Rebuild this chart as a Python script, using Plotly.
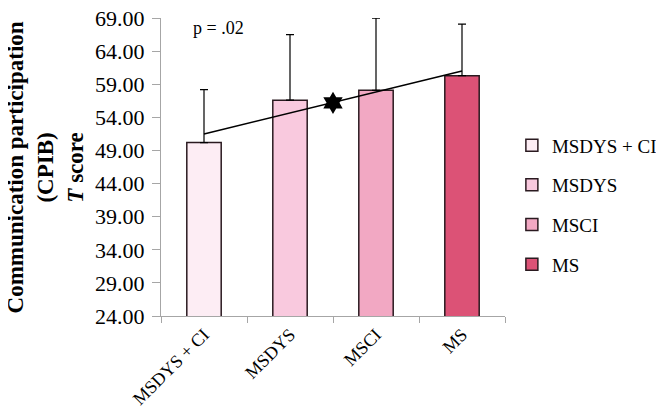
"""
Communication participation (CPIB) T score by group, with trend line
"""

import plotly.graph_objects as go

# data
groups = ['MSDYS + CI', 'MSDYS', 'MSCI', 'MS']
mean_scores = [50.2, 56.6, 58.1, 60.3]
sd_upper = [8.0, 9.9, 10.9, 7.8]
bar_colors = ['#fdedf4', '#f9c9de', '#f2a8c3', '#dc5276']

# trend line end points (first and last group) and the star marker
trend_x = [0, 3]
trend_y = [51.5, 61.0]
star_x = [1.5]
star_y = [56.2]

y_ticks = [24, 29, 34, 39, 44, 49, 54, 59, 64, 69]

FONT = 'Liberation Serif'
AXIS_GREY = '#a6a6a6'

fig = go.Figure()

for name, val, err, col in zip(groups, mean_scores, sd_upper, bar_colors):
    fig.add_trace(go.Bar(
        x=[name], y=[val], name=name,
        legendgroup=name,
        width=0.4,
        marker=dict(color=col, line=dict(color='#2a1a20', width=1.5)),
        error_y=dict(type='data', array=[err], arrayminus=[0], symmetric=False,
                     color='black', thickness=1.2, width=4),
    ))

# linear trend drawn on a hidden numeric axis laid over the category axis
fig.add_trace(go.Scatter(
    x=trend_x, y=trend_y, xaxis='x2', mode='lines',
    line=dict(color='black', width=1.5), showlegend=False, hoverinfo='skip',
))
fig.add_trace(go.Scatter(
    x=star_x, y=star_y, xaxis='x2', mode='markers',
    marker=dict(symbol='hexagram', size=17, color='black'),
    showlegend=False, hoverinfo='skip',
))

fig.add_annotation(
    text='p = .02', x=0.086, y=0.966, xref='paper', yref='paper',
    xanchor='left', yanchor='middle', showarrow=False,
    font=dict(family=FONT, size=18, color='black'),
)

# y-axis title as a rotated annotation so its place is fixed
fig.add_annotation(
    text='<b>Communication participation<br>(CPIB)<br><i>T</i> score</b>',
    x=-0.336, y=0.5, xref='paper', yref='paper',
    xanchor='center', yanchor='middle', textangle=-90, showarrow=False,
    font=dict(family=FONT, size=23, color='black'),
)

# the page body adds an 8px offset, so margins are set 8px smaller on the left
fig.update_layout(
    width=664, height=412, autosize=False,
    margin=dict(l=153, r=163, t=10, b=104),
    paper_bgcolor='white', plot_bgcolor='white',
    barmode='overlay',
    font=dict(family=FONT, size=20, color='black'),
    xaxis=dict(
        type='category', range=[-0.5, 3.5], automargin=False,
        showline=True, linecolor=AXIS_GREY, linewidth=1,
        ticks='outside', tickson='boundaries', ticklen=6, tickcolor=AXIS_GREY,
        tickangle=-45, showgrid=False, zeroline=False,
        tickfont=dict(family=FONT, size=18),
    ),
    xaxis2=dict(
        overlaying='x', range=[-0.5, 3.5], visible=False,
    ),
    yaxis=dict(
        range=[24, 69.02], tickvals=y_ticks, tickformat='.2f', automargin=False,
        showline=True, linecolor=AXIS_GREY, linewidth=1,
        ticks='outside', ticklen=8, tickcolor=AXIS_GREY, ticklabelstandoff=3,
        showgrid=False, zeroline=False, ticklabeloverflow='allow',
        tickfont=dict(family=FONT, size=22),
    ),
    legend=dict(
        x=1.02, y=0.6365, xanchor='left', yanchor='top',
        font=dict(family=FONT, size=19),
        tracegroupgap=12, traceorder='grouped',
        bgcolor='rgba(0,0,0,0)',
    ),
)

fig.write_html("out.html")
